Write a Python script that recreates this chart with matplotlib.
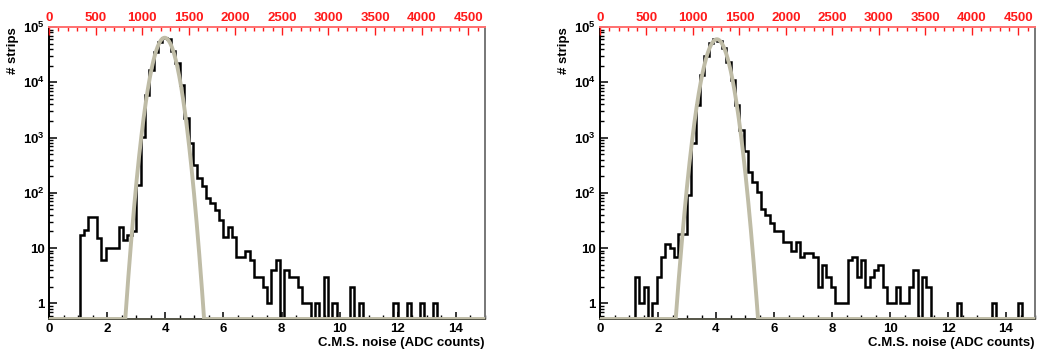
import numpy as np
import matplotlib.pyplot as plt
from matplotlib.ticker import FixedLocator, MultipleLocator, FixedFormatter, NullFormatter

plt.rcParams['font.family'] = 'Liberation Sans'
plt.rcParams['font.weight'] = 'bold'
plt.rcParams['mathtext.fontset'] = 'custom'
plt.rcParams['mathtext.rm'] = 'Liberation Sans:bold'
plt.rcParams['mathtext.bf'] = 'Liberation Sans:bold'
plt.rcParams['mathtext.default'] = 'bf'

# histogram: 100 bins of 0.15 ADC counts, 0..15
bin_lo = 0.0
bin_hi = 15.0
n_bins = 100

# left panel counts per bin
counts_left = [
    0, 0, 0, 0, 0, 0, 0, 17, 21, 37,
    37, 15, 6, 10, 10, 10, 24, 14, 17, 20,
    140, 1030, 5900, 17000, 36000, 54000, 64000, 60000, 37000, 22000,
    8900, 2230, 800, 316, 185, 130, 79, 65, 49, 32,
    16, 24, 16, 7, 7, 9, 6, 3, 3, 2,
    1, 4, 6, 0, 4, 3, 3, 2, 1, 1,
    0, 1, 0, 3, 0, 1, 0, 0, 0, 2,
    0, 1, 0, 0, 0, 0, 0, 0, 0, 1,
    0, 0, 1, 0, 0, 1, 0, 0, 1, 0,
    0, 0, 0, 0, 0, 0, 0, 0, 0, 0,
]

# right panel counts per bin
counts_right = [
    0, 0, 0, 0, 0, 0, 0, 0, 3, 1,
    2, 0, 1, 3, 7, 12, 10, 7, 18, 18,
    90, 790, 3900, 13500, 30400, 50500, 60000, 56000, 41000, 23500,
    11000, 3900, 1390, 570, 240, 160, 105, 50, 40, 28,
    20, 20, 13, 13, 9, 13, 7, 8, 8, 7,
    2, 5, 3, 2, 1, 1, 1, 6, 7, 3,
    6, 2, 3, 4, 5, 2, 1, 1, 2, 1,
    1, 2, 4, 0, 3, 2, 0, 0, 0, 0,
    0, 0, 1, 0, 0, 0, 0, 0, 0, 0,
    1, 0, 0, 0, 0, 0, 1, 0, 0, 0,
]

# gaussian fit parameters (amplitude, mean, sigma)
fit_left = (64000, 3.98, 0.28)
fit_right = (60000, 4.03, 0.294)

# top axis range
top_max = 4680

y_ticks = [1, 10, 100, 1e3, 1e4, 1e5]
y_labels = ['1', '10', r'$10^{2}$', r'$10^{3}$', r'$10^{4}$', r'$10^{5}$']

ymin, ymax = 0.52, 1e5
fit_color = '#bfbca6'
red = '#ff1a1a'

fig = plt.figure(figsize=(10.37, 3.49), dpi=100)


def draw_panel(rect, counts, fit):
    ax = fig.add_axes(rect)
    edges = np.linspace(bin_lo, bin_hi, n_bins + 1)
    vals = np.clip(np.array(counts, dtype=float), ymin * 0.5, None)
    ax.stairs(vals, edges, color='black', lw=1.8, baseline=None, zorder=3)

    amp, mu, sig = fit
    xs = np.linspace(bin_lo, bin_hi, 2000)
    ys = np.clip(amp * np.exp(-0.5 * ((xs - mu) / sig) ** 2), ymin, None)
    ax.plot(xs, ys, color=fit_color, lw=2.8, zorder=4, solid_capstyle='butt')

    ax.set_yscale('log')
    ax.set_xlim(bin_lo, bin_hi)
    ax.set_ylim(ymin, ymax)

    ax.yaxis.set_major_locator(FixedLocator(y_ticks))
    ax.yaxis.set_major_formatter(FixedFormatter(y_labels))
    minors = [m * 10 ** e for e in range(-1, 5) for m in range(2, 10)]
    ax.yaxis.set_minor_locator(FixedLocator(minors))
    ax.yaxis.set_minor_formatter(NullFormatter())

    ax.xaxis.set_major_locator(MultipleLocator(2))
    ax.xaxis.set_minor_locator(MultipleLocator(0.5))

    ax.tick_params(axis='both', which='both', direction='in', top=False, right=False,
                   labelsize=9.5, pad=3)
    ax.tick_params(axis='y', which='major', length=6, width=1.1)
    ax.tick_params(axis='y', which='minor', length=3.2, width=1.0)
    ax.tick_params(axis='x', which='major', length=5, width=1.1)
    ax.tick_params(axis='x', which='minor', length=3, width=1.0)
    for lab in ax.get_xticklabels() + ax.get_yticklabels():
        lab.set_fontweight('bold')

    ax.spines['top'].set_visible(False)
    ax.spines['right'].set_color('#777777')
    ax.spines['right'].set_linewidth(1.4)
    ax.spines['left'].set_linewidth(1.4)
    ax.spines['bottom'].set_linewidth(1.4)
    ax.spines['bottom'].set_color('#555548')

    top = ax.twiny()
    top.set_xlim(0, top_max)
    top.xaxis.set_major_locator(MultipleLocator(500))
    top.xaxis.set_minor_locator(MultipleLocator(100))
    top.tick_params(axis='x', which='both', direction='in', colors=red,
                    labelcolor=red, labelsize=9.5, pad=2)
    top.tick_params(axis='x', which='major', length=6, width=1.0)
    top.tick_params(axis='x', which='minor', length=3, width=1.0)
    for lab in top.get_xticklabels():
        lab.set_fontweight('bold')
    for s in ['left', 'right', 'bottom']:
        top.spines[s].set_visible(False)
    top.spines['top'].set_color('#ff7070')
    top.spines['top'].set_linewidth(1.4)

    ax.text(1.0, -0.082, 'C.M.S. noise (ADC counts)', transform=ax.transAxes,
            ha='right', va='center', fontsize=9.5, fontweight='bold')
    ax.text(-0.082, 1.0, '# strips', transform=ax.transAxes, rotation=90,
            ha='center', va='top', fontsize=9.5, fontweight='bold')
    return ax


draw_panel([49 / 1037, 30 / 349, 436 / 1037, 292 / 349], counts_left, fit_left)
draw_panel([600 / 1037, 30 / 349, 435 / 1037, 292 / 349], counts_right, fit_right)

fig.savefig('out.png', dpi=100)
